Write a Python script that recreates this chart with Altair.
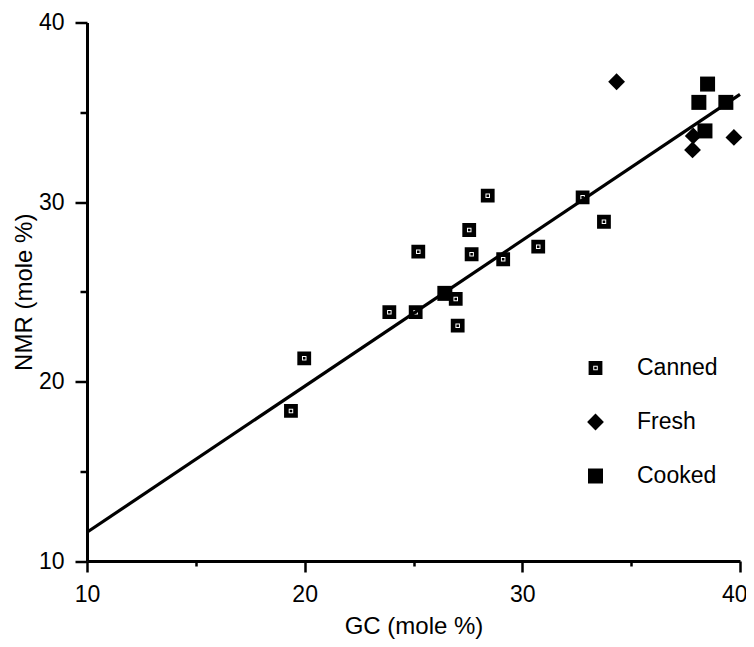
import altair as alt
import pandas as pd

# ---- data ----
canned_x = [19.37, 19.98, 23.89, 25.10, 25.22, 26.94, 27.03, 27.56, 27.67, 28.41, 29.12, 30.73, 32.77, 33.75]
canned_y = [18.36, 21.29, 23.86, 23.86, 27.23, 24.60, 23.11, 28.44, 27.09, 30.35, 26.81, 27.51, 30.26, 28.90]
fresh_x = [34.33, 37.82, 37.85, 39.72]
fresh_y = [36.70, 32.90, 33.68, 33.60]
cooked_x = [26.44, 38.11, 38.51, 39.35, 38.39]
cooked_y = [24.91, 35.55, 36.57, 35.55, 33.96]
fit_x = [10, 40]
fit_y = [11.6, 36.0]
categories = ["Canned", "Fresh", "Cooked"]
x_ticks = [10, 15, 20, 25, 30, 35, 40]
y_ticks = [10, 15, 20, 25, 30, 35, 40]

rows = []
for xs, ys, cat in [(canned_x, canned_y, "Canned"), (fresh_x, fresh_y, "Fresh"), (cooked_x, cooked_y, "Cooked")]:
    for a, b in zip(xs, ys):
        rows.append({"gc": a, "nmr": b, "type": cat})
pts = pd.DataFrame(rows)
fit = pd.DataFrame({"gc": fit_x, "nmr": fit_y})

FONT = "Liberation Sans"
canned_path = "M-0.92,-0.92H0.92V0.92H-0.92Z M-0.3,-0.3V0.3H0.3V-0.3Z M-0.17,-0.17H0.17V0.17H-0.17Z"
fresh_path = "M0,-1.12L1.12,0L0,1.12L-1.12,0Z"
cooked_path = "M-1,-1H1V1H-1Z"

xscale = alt.Scale(domain=[10, 40], nice=False, zero=False)
yscale = alt.Scale(domain=[10, 40], nice=False, zero=False)

xaxis = alt.Axis(
    values=x_ticks, title="GC (mole %)",
    tickSize={"condition": {"test": "datum.value % 10 != 0", "value": 5}, "value": 11},
    labelExpr="datum.value % 10 == 0 ? datum.label : ''",
    labelFlush=False,
    labelAlign={"condition": {"test": "datum.value == 40", "value": "right"}, "value": "center"},
    labelOffset={"condition": {"test": "datum.value == 40", "value": 7}, "value": 0},
    labelPadding=11, titlePadding=8, grid=False,
)
yaxis = alt.Axis(
    values=y_ticks, title="NMR (mole %)",
    tickSize={"condition": {"test": "datum.value % 10 != 0", "value": 7}, "value": 12},
    labelExpr="datum.value % 10 == 0 ? datum.label : ''",
    labelPadding=11, titlePadding=2, grid=False,
)

line = alt.Chart(fit).mark_line(color="black", strokeWidth=3.2).encode(
    x=alt.X("gc:Q", scale=xscale, axis=xaxis),
    y=alt.Y("nmr:Q", scale=yscale, axis=yaxis),
)

points = alt.Chart(pts).mark_point(filled=True, opacity=1, color="black", size=225).encode(
    x=alt.X("gc:Q", scale=xscale),
    y=alt.Y("nmr:Q", scale=yscale),
    shape=alt.Shape("type:N", scale=alt.Scale(domain=categories, range=[canned_path, fresh_path, cooked_path]),
                    legend=alt.Legend(title=None, orient="none", legendX=497, legendY=334,
                                      labelFont=FONT, labelFontSize=23, labelColor="black",
                                      labelOffset=30, rowPadding=30, padding=0, symbolSize=225,
                                      symbolFillColor="black", symbolStrokeWidth=0)),
)

chart = alt.layer(line, points).properties(
    width=653, height=538.5,
    autosize=alt.AutoSizeParams(type="none"),
    padding={"left": 79, "top": 14.5, "right": 6, "bottom": 78},
    background="white",
).configure_view(stroke=None).configure_axis(
    domainColor="black", domainWidth=3, tickColor="black", tickWidth=2.5,
    labelFont=FONT, labelFontSize=23, labelColor="black",
    titleFont=FONT, titleFontSize=24, titleFontWeight="normal", titleColor="black",
)

chart.save("out.html", embed_options={"renderer": "svg", "actions": False})
